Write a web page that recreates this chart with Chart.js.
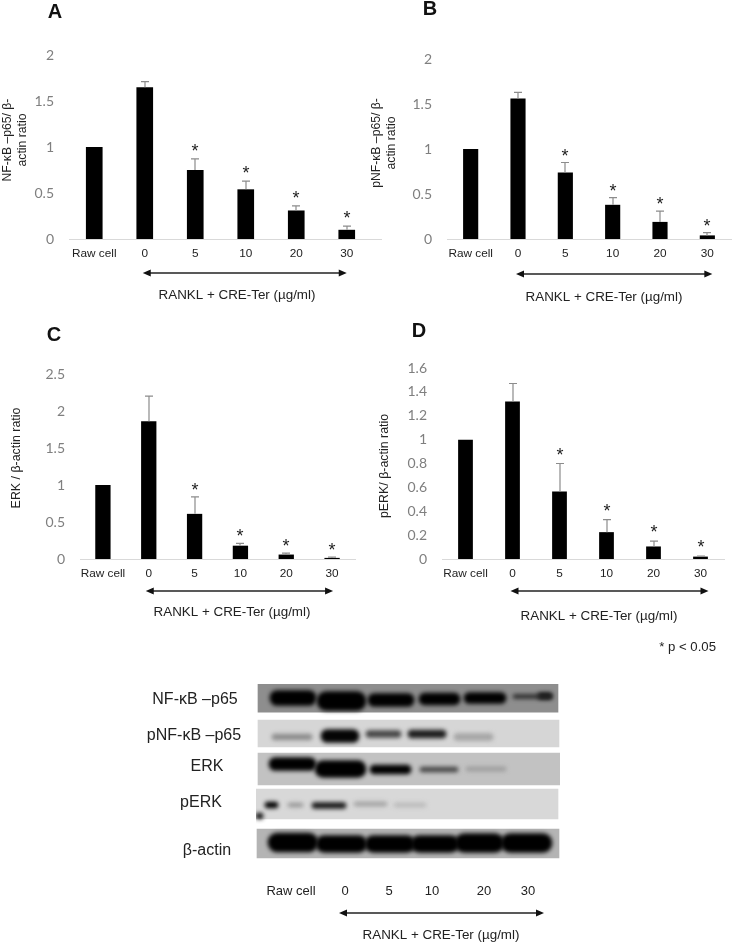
<!DOCTYPE html>
<html>
<head>
<meta charset="utf-8">
<title>RANKL + CRE-Ter</title>
<script src="https://cdn.jsdelivr.net/npm/chart.js@4"></script>
<style>
  html, body { margin: 0; padding: 0; background: #fff; }
  #page { position: relative; width: 733px; height: 943px; overflow: hidden; }
  #page canvas { position: absolute; left: 0; top: 0; }
</style>
</head>
<body>
<div id="page">
  <canvas id="chartA" width="733" height="943"></canvas>
  <canvas id="chartB" width="733" height="943"></canvas>
  <canvas id="chartC" width="733" height="943"></canvas>
  <canvas id="chartD" width="733" height="943"></canvas>
  <canvas id="blot" width="733" height="943"></canvas>
</div>
<script>
var categories = ['Raw cell', '0', '5', '10', '20', '30'];
var stars = ['', '', '*', '*', '*', '*'];

var valuesA = [1, 1.65, 0.75, 0.54, 0.31, 0.10];
var errorTopA = [1, 1.71, 0.87, 0.63, 0.36, 0.14];
var ticksA = [0, 0.5, 1, 1.5, 2];

var valuesB = [1, 1.56, 0.74, 0.38, 0.19, 0.04];
var errorTopB = [1, 1.63, 0.85, 0.46, 0.31, 0.07];
var ticksB = [0, 0.5, 1, 1.5, 2];

var valuesC = [1, 1.86, 0.61, 0.18, 0.06, 0.015];
var errorTopC = [1, 2.2, 0.84, 0.21, 0.08, 0.025];
var ticksC = [0, 0.5, 1, 1.5, 2, 2.5];

var valuesD = [1, 1.32, 0.565, 0.225, 0.105, 0.02];
var errorTopD = [1, 1.47, 0.80, 0.33, 0.15, 0.025];
var ticksD = [0, 0.2, 0.4, 0.6, 0.8, 1, 1.2, 1.4, 1.6];

var xTitle = 'RANKL + CRE-Ter (µg/ml)';

// western blot: [from, to, row centre, thickness, gray level]
var blotStrips = [
    [2, 302, 14, 28.5, 142],
    [2, 303, 49.5, 27, 214],
    [2, 304, 85, 32, 194],
    [0, 302, 120, 30, 216],
    [1, 303, 159.5, 29, 180]
];
var blotBands = [
    [14, 60, 14, 15, 0], [61, 110, 17, 19, 0], [112, 158, 16, 13, 0], [163, 204, 15, 12, 0], [208, 250, 14, 11, 0], [257, 296, 12.5, 4, 40], [282, 296, 12, 6, 0],
    [16, 56, 53, 6, 140], [65, 103, 52, 13, 5], [110, 145, 50, 7, 70], [152, 190, 50, 8, 30], [198, 237, 53, 7, 165],
    [13, 60, 80, 13, 0], [59, 110, 85, 17, 0], [114, 155, 85.5, 9, 0], [164, 202, 85.5, 5, 70], [210, 250, 85, 4, 155],
    [9, 22, 121, 6, 0], [32, 47, 121, 4, 150], [56, 90, 121.5, 6, 25], [98, 131, 120, 4, 160], [138, 170, 121, 4, 185], [0, 7, 132, 6, 15],
    [12, 62, 158.5, 19, 0], [60, 111, 160, 17, 0], [109, 159, 160, 17, 0], [155, 203, 160, 17, 0], [199, 248, 159, 19, 0], [245, 296, 159, 19, 0]
];
var blotRowLabels = ['NF-κB –p65', 'pNF-κB –p65', 'ERK', 'pERK', 'β-actin'];

var sans = '"Liberation Sans", Arial, sans-serif';

// errors, stars, arrow and the free text around one panel
var panelExtras = {
    id: 'panelExtras',
    afterDatasetsDraw: function(chart, args, opts) {
        var ctx = chart.ctx;
        var x = chart.scales.x, y = chart.scales.y;
        ctx.save();

        if (opts.lineEnd) {
            ctx.strokeStyle = '#d9d9d9';
            ctx.lineWidth = 1;
            ctx.beginPath();
            ctx.moveTo(x.right, y.bottom + 0.5);
            ctx.lineTo(opts.lineEnd, y.bottom + 0.5);
            ctx.stroke();
        }

        opts.errorTop.forEach(function(top, i) {
            var cx = Math.round(x.getPixelForValue(i));
            var py = y.getPixelForValue(top);
            var vy = y.getPixelForValue(opts.values[i]);
            if (top > opts.values[i]) {
                ctx.strokeStyle = '#8c8c8c';
                ctx.lineWidth = 1.2;
                ctx.beginPath();
                ctx.moveTo(cx, vy);
                ctx.lineTo(cx, py);
                ctx.moveTo(cx - 4, py);
                ctx.lineTo(cx + 4, py);
                ctx.stroke();
            }
            if (stars[i]) {
                ctx.fillStyle = '#222';
                ctx.font = '18px ' + sans;
                ctx.textAlign = 'center';
                ctx.textBaseline = 'alphabetic';
                ctx.fillText(stars[i], cx, py - opts.starGap + 7);
            }
        });

        drawArrow(ctx, x.getPixelForValue(1) - opts.arrow[0], x.getPixelForValue(5) + opts.arrow[1], opts.arrowY);

        ctx.fillStyle = '#222';
        ctx.font = opts.xFont + 'px ' + sans;
        ctx.textAlign = 'center';
        ctx.textBaseline = 'middle';
        ctx.fillText(xTitle, opts.xTitlePos[0], opts.xTitlePos[1]);

        ctx.fillStyle = '#111';
        ctx.font = 'bold 20px ' + sans;
        ctx.fillText(opts.letter, opts.letterPos[0], opts.letterPos[1]);

        ctx.fillStyle = '#222';
        ctx.font = opts.yFont + 'px ' + sans;
        opts.yTitle.forEach(function(line, i) {
            ctx.save();
            ctx.translate(opts.yTitleX[i], opts.yTitleY);
            ctx.rotate(-Math.PI / 2);
            ctx.fillText(line, 0, 0);
            ctx.restore();
        });

        if (opts.note) {
            ctx.font = '13.2px ' + sans;
            ctx.textAlign = 'right';
            ctx.fillText(opts.note, 716, 647);
        }
        ctx.restore();
    }
};

function drawArrow(ctx, x1, x2, y) {
    ctx.strokeStyle = '#222';
    ctx.fillStyle = '#111';
    ctx.lineWidth = 1.4;
    ctx.beginPath();
    ctx.moveTo(x1 + 4, y);
    ctx.lineTo(x2 - 4, y);
    ctx.stroke();
    ctx.beginPath();
    ctx.moveTo(x1, y);
    ctx.lineTo(x1 + 8, y - 3.5);
    ctx.lineTo(x1 + 8, y + 3.5);
    ctx.closePath();
    ctx.moveTo(x2, y);
    ctx.lineTo(x2 - 8, y - 3.5);
    ctx.lineTo(x2 - 8, y + 3.5);
    ctx.closePath();
    ctx.fill();
}

function makePanel(id, box, values, errorTop, ticks, extras) {
    extras.values = values;
    extras.errorTop = errorTop;
    return new Chart(document.getElementById(id), {
        type: 'bar',
        data: {
            labels: categories,
            datasets: [{
                data: values,
                backgroundColor: '#000',
                barPercentage: box.bar,
                categoryPercentage: 1
            }]
        },
        options: {
            responsive: false,
            animation: false,
            devicePixelRatio: 1,
            layout: { padding: { top: box.top, right: 733 - box.right, left: 0, bottom: 0 } },
            plugins: { legend: { display: false }, tooltip: { enabled: false }, panelExtras: extras },
            scales: {
                x: {
                    afterFit: function(s) { s.height = 943 - box.bottom; },
                    grid: { display: false, drawTicks: false },
                    border: { color: '#d9d9d9' },
                    ticks: { color: '#222', padding: 8, maxRotation: 0, autoSkip: false, font: { family: sans, size: 11.8 } }
                },
                y: {
                    min: 0,
                    max: ticks[ticks.length - 1],
                    afterFit: function(s) { s.width = box.left; },
                    afterBuildTicks: function(s) {
                        s.ticks = ticks.map(function(v) { return { value: v }; });
                    },
                    grid: { display: false, drawTicks: false },
                    border: { display: false },
                    ticks: {
                        color: '#7f7f7f',
                        padding: 15,
                        font: { family: 'Lato', size: 14 },
                        callback: function(v) { return String(v); }
                    }
                }
            }
        },
        plugins: [panelExtras]
    });
}

makePanel('chartA', { left: 69, right: 372, top: 55, bottom: 239, bar: 0.33 }, valuesA, errorTopA, ticksA, {
    letter: 'A', letterPos: [55, 12], starGap: 9, arrow: [2, 0], arrowY: 273, xFont: 13.4, xTitlePos: [237, 295],
    yFont: 12.2, yTitle: ['NF-κB –p65/ β-', 'actin ratio'], yTitleX: [8, 23], yTitleY: 140, lineEnd: 382
});
makePanel('chartB', { left: 447, right: 731, top: 59, bottom: 239, bar: 0.32 }, valuesB, errorTopB, ticksB, {
    letter: 'B', letterPos: [430, 9], starGap: 8, arrow: [2, 5], arrowY: 274, xFont: 13.4, xTitlePos: [604, 297],
    yFont: 12.2, yTitle: ['pNF-κB –p65/ β-', 'actin ratio'], yTitleX: [377, 392], yTitleY: 143
});
makePanel('chartC', { left: 80, right: 355, top: 374, bottom: 559, bar: 0.334 }, valuesC, errorTopC, ticksC, {
    letter: 'C', letterPos: [54, 335], starGap: 8, arrow: [3, 1], arrowY: 591, xFont: 13.4, xTitlePos: [232, 612],
    yFont: 12.4, yTitle: ['ERK / β-actin ratio'], yTitleX: [17], yTitleY: 458
});
makePanel('chartD', { left: 442, right: 724, top: 368, bottom: 559, bar: 0.314 }, valuesD, errorTopD, ticksD, {
    letter: 'D', letterPos: [419, 331], starGap: 10, arrow: [2, 8], arrowY: 591, xFont: 13.4, xTitlePos: [599, 616],
    yFont: 12.4, yTitle: ['pERK/ β-actin ratio'], yTitleX: [385], yTitleY: 466, note: '* p < 0.05'
});

// blot bands are soft, so blur them while they are drawn
var softBands = {
    id: 'softBands',
    beforeDatasetDraw: function(chart, args) {
        if (args.meta._dataset.soft) {
            chart.ctx.save();
            chart.ctx.filter = 'blur(2px)';
        }
    },
    afterDatasetDraw: function(chart, args) {
        if (args.meta._dataset.soft) {
            chart.ctx.restore();
        }
    },
    afterDraw: function(chart) {
        var ctx = chart.ctx;
        ctx.save();
        ctx.fillStyle = '#222';
        ctx.textAlign = 'center';
        ctx.textBaseline = 'middle';
        ctx.font = '16px ' + sans;
        var labelX = [195, 194, 207, 201, 207], labelY = [700, 736, 767, 803, 851];
        blotRowLabels.forEach(function(t, i) { ctx.fillText(t, labelX[i], labelY[i]); });
        ctx.font = '13px ' + sans;
        var laneX = [291, 345, 389, 432, 484, 528];
        categories.forEach(function(t, i) { ctx.fillText(t, laneX[i], 891); });
        drawArrow(ctx, 339, 544, 913);
        ctx.fillStyle = '#222';
        ctx.font = '13.4px ' + sans;
        ctx.fillText(xTitle, 441, 935);
        ctx.restore();
    }
};

function blotDataset(b, soft) {
    var gray = 'rgb(' + b[4] + ',' + b[4] + ',' + b[4] + ')';
    return {
        data: [{ x: [b[0], b[1]], y: b[2] }],
        backgroundColor: gray,
        barThickness: b[3],
        borderRadius: soft ? b[3] / 2 : 0,
        borderSkipped: false,
        soft: soft
    };
}

new Chart(document.getElementById('blot'), {
    type: 'bar',
    data: {
        // first dataset ends up on top, so strips go last
        datasets: blotBands.map(function(b) { return blotDataset(b, true); })
            .concat(blotStrips.map(function(b) { return blotDataset(b, false); }))
    },
    options: {
        indexAxis: 'y',
        responsive: false,
        animation: false,
        devicePixelRatio: 1,
        layout: { padding: { left: 256, right: 733 - 560, top: 684, bottom: 943 - 859 } },
        plugins: { legend: { display: false }, tooltip: { enabled: false } },
        datasets: { bar: { grouped: false } },
        scales: {
            x: { type: 'linear', min: 0, max: 304, display: false },
            y: { type: 'linear', min: 0, max: 175, reverse: true, display: false, offset: false }
        }
    },
    plugins: [softBands]
});
</script>
</body>
</html>
